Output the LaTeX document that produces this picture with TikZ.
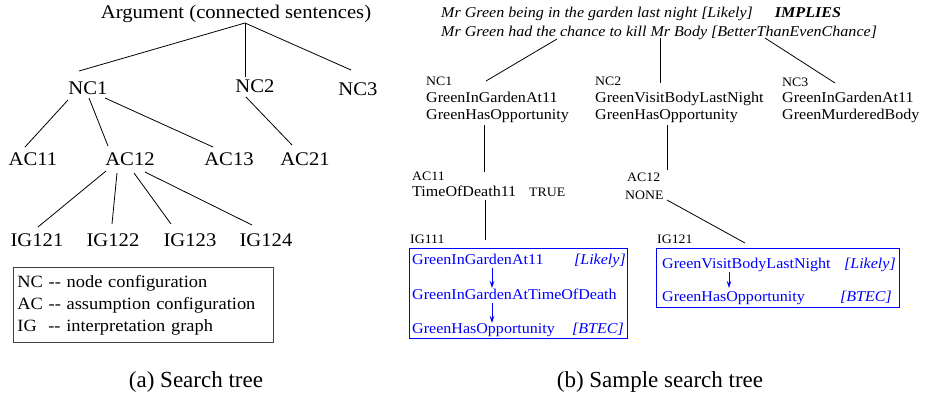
\documentclass[tikz,border=0pt]{standalone}
\usepackage{fontspec}
\setmainfont[FakeStretch=1.07]{Liberation Serif}
\newfontfamily\capfont{Liberation Serif}
\usetikzlibrary{arrows.meta}
\tikzset{
  lt/.style={font=\fontsize{19.3}{23}\selectfont, anchor=base, inner sep=0pt},
  rl/.style={font=\fontsize{12.9}{15}\selectfont, anchor=base west, inner sep=0pt},
  rt/.style={font=\fontsize{15}{17}\selectfont, anchor=base west, inner sep=0pt, align=left},
  tl/.style={font=\fontsize{15}{17}\selectfont\itshape, anchor=base west, inner sep=0pt},
  bt/.style={rt, text=blue},
  bq/.style={font=\fontsize{15}{17}\selectfont\itshape, anchor=base east, inner sep=0pt, text=blue},
  conn/.style={line width=0.8pt},
  flow/.style={blue, line width=0.8pt, -{Stealth[length=7pt,width=4.5pt]}},
  igbox/.style={draw=blue, line width=0.9pt, anchor=north west, inner sep=0pt},
  captext/.style={font=\capfont\fontsize{23}{27}\selectfont, anchor=base, inner sep=0pt},
}
\begin{document}
\begin{tikzpicture}[x=1pt,y=-1pt]
\useasboundingbox (0,0) rectangle (931,397);
% ---------- (a) search tree ----------
\node[lt] (arg) at (236,18) {Argument (connected sentences)};
\node[lt] (nc1) at (88,94) {NC1};
\node[lt] (nc2) at (255,92) {NC2};
\node[lt] (nc3) at (358,95) {NC3};
\node[lt] (ac11) at (33,165) {AC11};
\node[lt] (ac12) at (130,165) {AC12};
\node[lt] (ac13) at (229,165) {AC13};
\node[lt] (ac21) at (305,165) {AC21};
\node[lt] (ig121) at (37,246) {IG121};
\node[lt] (ig122) at (113,246) {IG122};
\node[lt] (ig123) at (190,246) {IG123};
\node[lt] (ig124) at (266,246) {IG124};
\draw[conn] ([shift={(9,5)}]arg.base) -- ([shift={(-9,-23)}]nc1.base);
\draw[conn] ([shift={(9,5)}]arg.base) -- ([shift={(-10,-15)}]nc2.base);
\draw[conn] ([shift={(9,5)}]arg.base) -- ([shift={(-7,-25)}]nc3.base);
\draw[conn] ([shift={(-20,6)}]nc1.base) -- ([shift={(-8,-18)}]ac11.base);
\draw[conn] ([shift={(1,4)}]nc1.base) -- ([shift={(-22,-19)}]ac12.base);
\draw[conn] ([shift={(17,4)}]nc1.base) -- ([shift={(-16,-18)}]ac13.base);
\draw[conn] ([shift={(-9,5)}]nc2.base) -- ([shift={(-13,-20)}]ac21.base);
\draw[conn] ([shift={(-24,6)}]ac12.base) -- ([shift={(1,-19)}]ig121.base);
\draw[conn] ([shift={(-13,8)}]ac12.base) -- ([shift={(-1,-22)}]ig122.base);
\draw[conn] ([shift={(4,8)}]ac12.base) -- ([shift={(-19,-22)}]ig123.base);
\draw[conn] ([shift={(15,7)}]ac12.base) -- ([shift={(-14,-21)}]ig124.base);
\node[draw=black!75, line width=0.8pt, anchor=north west, text width=252pt, align=left,
      inner xsep=4pt, inner ysep=0pt, minimum height=75pt,
      font=\fontsize{17.2}{22}\selectfont] (legend) at (13,267)
  {NC -{}- node configuration\\AC -{}- assumption configuration\\IG\ \ -{}- interpretation graph};
\node[captext] (capa) at (196,387) {(a) Search tree};
% ---------- (b) sample search tree ----------
\node[tl] (top1) at (441,17) {Mr Green being in the garden last night [Likely]\hspace{22pt}\textbf{IMPLIES}};
\node[tl] (top2) at (441,36) {Mr Green had the chance to kill Mr Body [BetterThanEvenChance]};
\node[rl] (lnc1) at (426,85) {NC1};
\node[rt] (nc1t) at (426,119) {GreenInGardenAt11\\GreenHasOpportunity};
\node[rl] (lnc2) at (595,85) {NC2};
\node[rt] (nc2t) at (595,119) {GreenVisitBodyLastNight\\GreenHasOpportunity};
\node[rl] (lnc3) at (782,86) {NC3};
\node[rt] (nc3t) at (782,119) {GreenInGardenAt11\\GreenMurderedBody};
\node[rl] (lac11) at (412,180) {AC11};
\node[rt] (ac11t) at (412,196) {TimeOfDeath11};
\node[rl] (true) at (529,196) {TRUE};
\node[rl] (lac12) at (627,181) {AC12};
\node[rl] (none) at (625,199) {NONE};
\node[rl] (lig111) at (410,243) {IG111};
\node[rl] (lig121) at (657,243) {IG121};
\node[igbox, minimum width=218pt, minimum height=90pt] (box111) at (409,248) {};
\node[igbox, minimum width=243pt, minimum height=59pt] (box121) at (656,248) {};
\node[bt] (g1a) at (412,264) {GreenInGardenAt11};
\node[bt] (g1b) at (412,299) {GreenInGardenAtTimeOfDeath};
\node[bt] (g1c) at (412,333) {GreenHasOpportunity};
\node[bq] (q1a) at (626,264) {[Likely]};
\node[bq] (q1c) at (624,333) {[BTEC]};
\node[bt] (g2a) at (662,268) {GreenVisitBodyLastNight};
\node[bt] (g2b) at (662,301) {GreenHasOpportunity};
\node[bq] (q2a) at (896,268) {[Likely]};
\node[bq] (q2b) at (892,301) {[BTEC]};
\draw[flow] ([shift={(80,4)}]g1a.base west) -- ([shift={(80,-11)}]g1b.base west);
\draw[flow] ([shift={(80,4)}]g1b.base west) -- ([shift={(80,-10)}]g1c.base west);
\draw[flow] ([shift={(67,4)}]g2a.base west) -- ([shift={(67,-13)}]g2b.base west);
\draw[conn] ([shift={(116,3)}]top2.base west) -- ([shift={(60,-38)}]nc1t.base west);
\draw[conn] ([shift={(219,2)}]top2.base west) -- ([shift={(65,-36)}]nc2t.base west);
\draw[conn] ([shift={(324,2)}]top2.base west) -- ([shift={(53,-36)}]nc3t.base west);
\draw[conn] ([shift={(58,6)}]nc1t.base west) -- ([shift={(72,-8)}]lac11.base west);
\draw[conn] ([shift={(73,4)}]ac11t.base west) -- ([shift={(75,-3)}]lig111.base west);
\draw[conn] ([shift={(72,6)}]nc2t.base west) -- ([shift={(40,-11)}]lac12.base west);
\draw[conn] ([shift={(42,1)}]none.base west) -- ([shift={(88,0)}]lig121.base west);
\node[captext] (capb) at (660,387) {(b) Sample search tree};
\end{tikzpicture}
\end{document}
